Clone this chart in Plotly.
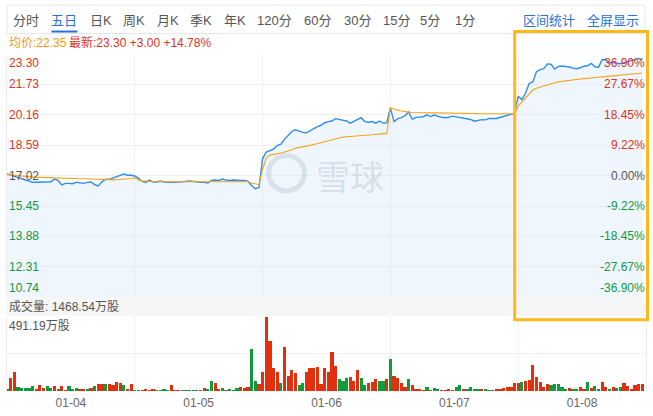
import plotly.graph_objects as go

# ---------------- data ----------------
day_labels = ["01-04", "01-05", "01-06", "01-07", "01-08"]
price_levels = [23.30, 21.73, 20.16, 18.59, 17.02, 15.45, 13.88, 12.31, 10.74]
pct_labels = ["36.90%", "27.67%", "18.45%", "9.22%", "0.00%", "-9.22%", "-18.45%", "-27.67%", "-36.90%"]
base_price = 17.02
vol_max = 491.19

price_d1 = [17.11, 17.05, 17.00, 16.95, 16.89, 16.82, 16.74, 16.68, 16.68, 16.68, 16.69, 16.69, 16.70, 16.84, 16.77,
            16.54, 16.62, 16.62, 16.60, 16.68, 16.64, 16.62, 16.67, 16.69, 16.56, 16.49, 16.70, 16.83, 16.83, 16.89,
            16.94, 17.00, 17.10, 17.04, 17.04]
price_d2 = [17.00, 16.89, 16.72, 16.67, 16.79, 16.69, 16.69, 16.74, 16.69, 16.67, 16.67, 16.67, 16.69, 16.69, 16.72,
            16.74, 16.72, 16.69, 16.67, 16.67, 16.64, 16.77, 16.79, 16.77, 16.84, 16.79, 16.77, 16.79, 16.77, 16.77,
            16.77, 16.74, 16.51, 16.34, 16.41]
price_d3 = [17.90, 18.24, 18.32, 18.39, 18.57, 18.64, 18.89, 19.12, 19.30, 19.39, 19.32, 19.25, 19.23, 19.35, 19.45,
            19.55, 19.62, 19.75, 19.81, 19.84, 19.96, 19.93, 19.87, 19.84, 19.73, 19.81, 19.91, 20.01, 19.81, 19.78,
            19.81, 19.73, 19.84, 19.73, 19.75]
price_d4 = [20.52, 19.81, 19.96, 20.01, 20.11, 20.31, 19.93, 20.03, 20.04, 20.06, 20.16, 20.07, 20.15, 20.07, 20.03,
            20.01, 20.03, 20.09, 20.06, 20.01, 19.97, 19.96, 19.92, 19.83, 19.88, 19.91, 19.90, 19.97, 19.97, 19.97,
            20.02, 20.07, 20.14, 20.19, 20.24]
price_d5 = [21.12, 20.94, 21.27, 21.78, 21.86, 22.39, 22.49, 22.54, 22.79, 22.77, 22.52, 22.66, 22.68, 22.67, 22.63,
            22.57, 22.54, 22.59, 22.67, 22.69, 22.82, 22.64, 22.62, 23.00, 23.00, 22.84, 22.87, 22.82, 22.80, 22.85,
            22.90, 22.95, 23.02, 23.07, 23.00]

avg_d1 = [17.07, 17.05, 17.02, 17.00, 16.98, 16.96, 16.95, 16.94, 16.93, 16.93, 16.92, 16.92, 16.91, 16.91, 16.90,
          16.89, 16.88, 16.88, 16.87, 16.87, 16.86, 16.86, 16.85, 16.85, 16.84, 16.83, 16.82, 16.81, 16.80, 16.80,
          16.81, 16.82, 16.84, 16.86, 16.87]
avg_d2 = [16.90, 16.80, 16.75, 16.72, 16.72, 16.71, 16.71, 16.71, 16.70, 16.70, 16.70, 16.70, 16.70, 16.70, 16.70,
          16.70, 16.70, 16.70, 16.70, 16.70, 16.70, 16.70, 16.70, 16.71, 16.71, 16.71, 16.71, 16.71, 16.71, 16.71,
          16.71, 16.70, 16.64, 16.58, 16.55]
avg_d3 = [17.35, 17.93, 18.08, 18.11, 18.13, 18.19, 18.24, 18.29, 18.36, 18.44, 18.47, 18.50, 18.52, 18.58, 18.63,
          18.68, 18.72, 18.77, 18.82, 18.88, 18.93, 18.98, 19.01, 19.03, 19.05, 19.07, 19.09, 19.10, 19.11, 19.12,
          19.13, 19.15, 19.17, 19.18, 19.20]
avg_d4 = [20.52, 20.45, 20.40, 20.36, 20.32, 20.30, 20.28, 20.27, 20.26, 20.26, 20.26, 20.26, 20.26, 20.26, 20.26,
          20.26, 20.26, 20.26, 20.26, 20.26, 20.26, 20.25, 20.24, 20.23, 20.22, 20.22, 20.21, 20.21, 20.21, 20.21,
          20.21, 20.21, 20.21, 20.21, 20.21]
avg_d5 = [20.62, 20.82, 21.07, 21.27, 21.44, 21.53, 21.59, 21.65, 21.72, 21.77, 21.82, 21.86, 21.89, 21.92, 21.94,
          21.97, 21.99, 22.01, 22.03, 22.04, 22.06, 22.08, 22.10, 22.12, 22.14, 22.15, 22.17, 22.19, 22.21, 22.23,
          22.25, 22.27, 22.29, 22.30, 22.32]

vol_d1 = [13, 86, 129, 26, 21, 21, 21, 34, 17, 39, 21, 34, 21, 34, 17, 34, 9, 34, 17, 21, 13, 13, 13, 21, 34, 47, 47,
          47, 47, 39, 60, 52, 39, 13, 47]
vol_d2 = [9, 9, 9, 17, 9, 13, 9, 9, 13, 9, 39, 9, 9, 9, 9, 9, 9, 9, 9, 21, 13, 65, 56, 13, 21, 9, 13, 9, 21, 26, 21,
          26, 280, 65, 47]
vol_d3 = [125, 491.19, 330, 157, 125, 54, 293, 103, 142, 121, 39, 56, 125, 151, 155, 160, 47, 155, 130, 259, 164, 78,
          65, 86, 91, 65, 142, 86, 39, 52, 60, 78, 65, 65, 78]
vol_d4 = [216, 103, 86, 52, 26, 78, 39, 17, 13, 9, 26, 9, 21, 13, 9, 9, 13, 9, 26, 39, 13, 13, 26, 13, 13, 13, 13, 9,
          9, 13, 13, 21, 26, 26, 52]
vol_d5 = [52, 60, 65, 73, 172, 91, 60, 26, 47, 39, 47, 47, 30, 13, 21, 13, 13, 26, 13, 60, 21, 34, 13, 60, 30, 13, 26,
          21, 30, 52, 34, 13, 39, 47, 47]

# bar direction: r = up, g = down
dir_d1 = "grrgggggrrrggrgrrgggrrgrgrrgrrrrgrr"
dir_d2 = "ggrrrrggggrrrgggggrrggrrgrgggrrrggr"
dir_d3 = "rrrrrgrrrrggrrrrrrrrrgggrrrggrrrggr"
dir_d4 = "grrrrgrrrrgrggrrrrggrggggrggrrrrrrr"
dir_d5 = "rgrrrrrrrgggggrggrrgrggrrgrggrrrrrr"

# ---------------- assemble ----------------
prices = [price_d1, price_d2, price_d3, price_d4, price_d5]
avgs = [avg_d1, avg_d2, avg_d3, avg_d4, avg_d5]
vols = [vol_d1, vol_d2, vol_d3, vol_d4, vol_d5]
dirs = [dir_d1, dir_d2, dir_d3, dir_d4, dir_d5]

xs, p_all, a_all, v_all, c_all = [], [], [], [], []
RED = "#e2300f"
GREEN = "#0f9a3b"
for d in range(5):
    n = len(prices[d])
    for j in range(n):
        xs.append(d + j / n)
        p_all.append(prices[d][j])
        a_all.append(avgs[d][j])
        v_all.append(vols[d][j])
        c_all.append(RED if dirs[d][j] == "r" else GREEN)

W, H = 653, 416
ML, MR, MT, MB = 7, 6, 54, 17
PW, PH = W - ML - MR, H - MT - MB


def px(p):
    return (p - ML) / PW


def py(p):
    return (H - MB - p) / PH


price_dom = [py(303), 1]
vol_dom = [0, py(323)]

FONT = "Arial, 'Liberation Sans', 'Noto Sans CJK SC', sans-serif"

fig = go.Figure()
fig.add_trace(go.Scatter(x=xs, y=p_all, mode="lines", line=dict(color="#2f8cf0", width=1.4),
                         fill="tozeroy", fillcolor="rgba(205,226,250,0.32)", xaxis="x", yaxis="y",
                         hoverinfo="skip"))
fig.add_trace(go.Scatter(x=xs, y=a_all, mode="lines", line=dict(color="#f7a21b", width=1.1),
                         xaxis="x", yaxis="y", hoverinfo="skip"))
fig.add_trace(go.Bar(x=xs, y=v_all, marker=dict(color=c_all, line=dict(width=0)), width=0.88 / 35,
                     xaxis="x2", yaxis="y2", hoverinfo="skip"))

shapes = []
# vertical day gridlines in volume pane
for d in range(1, 5):
    shapes.append(dict(type="line", xref="x2", yref="paper", x0=d, x1=d, y0=vol_dom[0], y1=vol_dom[1],
                       line=dict(color="#efefef", width=1), layer="below"))
# volume header band
shapes.append(dict(type="rect", xref="paper", yref="paper", x0=0, x1=1, y0=py(322), y1=py(303),
                   fillcolor="#f6f6f6", line=dict(width=0), layer="below"))
# toolbar box
shapes.append(dict(type="rect", xref="paper", yref="paper", x0=px(7), x1=px(646), y0=py(33), y1=py(4),
                   fillcolor="rgba(0,0,0,0)", line=dict(color="#e8e8e8", width=1)))
# tab underline
shapes.append(dict(type="line", xref="paper", yref="paper", x0=px(51.5), x1=px(77.5), y0=py(31), y1=py(31),
                   line=dict(color="#2a6fd6", width=2)))
# watermark logo circle
shapes.append(dict(type="circle", xref="paper", yref="paper", x0=px(269), x1=px(305), y0=py(194), y1=py(158),
                   line=dict(color="rgba(190,200,215,0.45)", width=5)))
# highlight box
shapes.append(dict(type="rect", xref="paper", yref="paper", x0=px(515.5), x1=px(648.5), y0=py(326), y1=py(31),
                   fillcolor="rgba(0,0,0,0)", line=dict(color="#fdb91a", width=3)))

ann = []
# toolbar tabs
tabs = [("分时", 26), ("五日", 64.5), ("日K", 101), ("周K", 134), ("月K", 168), ("季K", 201.5), ("年K", 235),
        ("120分", 275), ("60分", 317.5), ("30分", 358), ("15分", 397), ("5分", 431), ("1分", 465.5)]
for t, cx in tabs:
    ann.append(dict(text=t, x=px(cx), y=py(19.5), xref="paper", yref="paper", xanchor="center", yanchor="middle",
                    showarrow=False, font=dict(family=FONT, size=13,
                                               color="#2a6fd6" if t == "五日" else "#555555")))
for t, cx in [("区间统计", 550), ("全屏显示", 613.5)]:
    ann.append(dict(text=t, x=px(cx), y=py(19.5), xref="paper", yref="paper", xanchor="center", yanchor="middle",
                    showarrow=False, font=dict(family=FONT, size=13, color="#2a6fd6")))
# info line
ann.append(dict(text="均价:22.35", x=px(7), y=py(42.5), xref="paper", yref="paper", xanchor="left",
                yanchor="middle", showarrow=False, font=dict(family=FONT, size=12, color="#f39a12")))
ann.append(dict(text="最新:23.30 +3.00 +14.78%", x=px(67.5), y=py(42.5), xref="paper", yref="paper",
                xanchor="left", yanchor="middle", showarrow=False, font=dict(family=FONT, size=12, color="#e0321c")))

# price / percent labels
for i, (lv, pl) in enumerate(zip(price_levels, pct_labels)):
    if lv > base_price + 1e-9:
        col = "#e2321c"
    elif lv < base_price - 1e-9:
        col = "#139a3e"
    else:
        col = "#555555"
    if i == 0:
        ya = "top"
    elif i == len(price_levels) - 1:
        ya = "bottom"
    else:
        ya = "middle"
    ann.append(dict(text=f"{lv:.2f}", x=0, y=lv, xref="paper", yref="y", xanchor="left", yanchor=ya,
                    showarrow=False, font=dict(family=FONT, size=12, color=col)))
    ann.append(dict(text=pl, x=1, y=lv, xref="paper", yref="y", xanchor="right", yanchor=ya,
                    xshift=1, showarrow=False, font=dict(family=FONT, size=12, color=col)))

# volume texts
ann.append(dict(text="成交量: 1468.54万股", x=px(7), y=py(312.5), xref="paper", yref="paper", xanchor="left",
                yanchor="middle", showarrow=False, font=dict(family=FONT, size=12, color="#555555")))
ann.append(dict(text=f"{vol_max:.2f}万股", x=px(7), y=py(332), xref="paper", yref="paper", xanchor="left",
                yanchor="middle", showarrow=False, font=dict(family=FONT, size=12, color="#555555")))
# watermark text
ann.append(dict(text="雪球", x=px(351), y=py(178), xref="paper", yref="paper", xanchor="center",
                yanchor="middle", showarrow=False,
                font=dict(family="'Noto Sans CJK SC', sans-serif", size=34, color="rgba(185,196,212,0.45)")))

fig.update_layout(
    width=W, height=H,
    margin=dict(l=ML, r=MR, t=MT, b=MB),
    paper_bgcolor="white", plot_bgcolor="white",
    showlegend=False, hovermode=False,
    bargap=0,
    xaxis=dict(domain=[0, 1], range=[0, 5], anchor="y", tickvals=[1, 2, 3, 4], showticklabels=False,
               showgrid=True, gridcolor="#efefef", zeroline=False, ticks="", fixedrange=True),
    yaxis=dict(domain=price_dom, range=[price_levels[-1], price_levels[0]], tickvals=price_levels,
               showticklabels=False, showgrid=True, gridcolor="#f0f0f0", zeroline=False, ticks="",
               showline=True, mirror=True, linecolor="#ececec", linewidth=1),
    xaxis2=dict(domain=[0, 1], range=[0, 5], anchor="y2", tickvals=[0.5, 1.5, 2.5, 3.5, 4.5],
                ticktext=day_labels, showgrid=False, zeroline=False, ticks="", ticklabelstandoff=3,
                tickfont=dict(family=FONT, size=12, color="#666666")),
    yaxis2=dict(domain=vol_dom, range=[0, vol_max], tickvals=[vol_max / 2], showticklabels=False,
                showgrid=True, gridcolor="#f0f0f0", zeroline=False, ticks="",
                showline=True, mirror=True, linecolor="#ececec", linewidth=1),
    shapes=shapes,
    annotations=ann,
)

fig.write_html("out.html", config={"displayModeBar": False},
               post_script="document.body.style.margin='0';document.body.style.overflow='hidden';")
